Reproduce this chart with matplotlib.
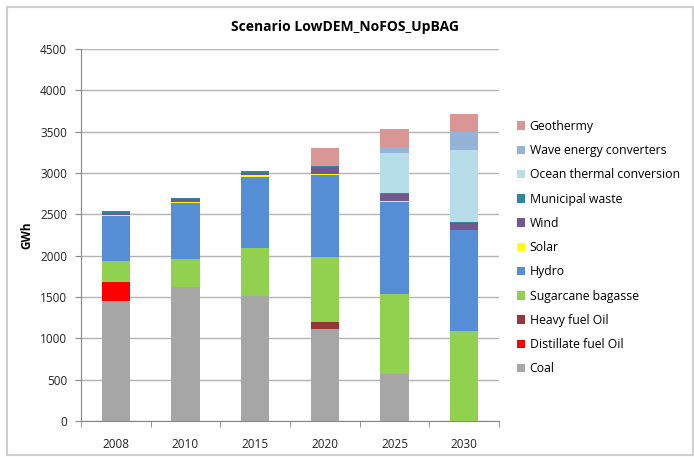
import matplotlib.pyplot as plt
import numpy as np

years = ["2008", "2010", "2015", "2020", "2025", "2030"]

coal = [1448, 1620, 1512, 1110, 563, 0]
distillate_oil = [229, 0, 0, 0, 0, 0]
heavy_oil = [0, 0, 0, 86, 0, 0]
bagasse = [263, 340, 575, 790, 978, 1086]
hydro = [544, 675, 868, 992, 1105, 1222]
solar = [12, 12, 26, 14, 16, 4]
wind = [24, 38, 18, 76, 80, 88]
municipal = [20, 10, 20, 20, 21, 13]
otec = [0, 0, 0, 0, 474, 860]
wave = [0, 0, 0, 5, 72, 217]
geothermy = [0, 0, 0, 215, 222, 226]

series = [
    ("Coal", coal, "#a6a6a6"),
    ("Distillate fuel Oil", distillate_oil, "#ff0000"),
    ("Heavy fuel Oil", heavy_oil, "#953735"),
    ("Sugarcane bagasse", bagasse, "#92d050"),
    ("Hydro", hydro, "#558ed5"),
    ("Solar", solar, "#ffff00"),
    ("Wind", wind, "#71588f"),
    ("Municipal waste", municipal, "#31859c"),
    ("Ocean thermal conversion", otec, "#b7dee8"),
    ("Wave energy converters", wave, "#95b3d7"),
    ("Geothermy", geothermy, "#d99694"),
]

plt.rcParams['font.family'] = ['Open Sans', 'DejaVu Sans']

fig = plt.figure(figsize=(6.94, 4.57), dpi=100)
# plot area in pixels: x 81..499, y 49..421
ax = fig.add_axes([81 / 694, 36 / 457, 418 / 694, 372 / 457])

x = np.arange(len(years))
bottom = np.zeros(len(years))
for name, vals, color in series:
    vals = np.array(vals, dtype=float)
    ax.bar(x, vals, 0.405, bottom=bottom, color=color, label=name, zorder=3)
    bottom += vals

ax.set_xlim(-0.5, len(years) - 0.5)
ax.set_ylim(0, 4500)
ax.set_yticks(np.arange(0, 4501, 500))
ax.set_xticks(x)
ax.set_xticklabels(years)
ax.set_xticks(np.arange(-0.5, len(years)), minor=True)
ax.tick_params(axis='x', which='major', length=0, pad=12, labelsize=8.5, labelcolor='#222222')
ax.tick_params(axis='x', which='minor', length=4, color='#868686')
ax.tick_params(axis='y', length=4, color='#868686', labelsize=8.5, pad=6, labelcolor='#222222')
ax.grid(axis='y', color='#b3b3b3', linewidth=1, zorder=0)

for side in ['top', 'right']:
    ax.spines[side].set_visible(False)
for side in ['left', 'bottom']:
    ax.spines[side].set_color('#868686')

ax.set_ylabel("GWh", fontsize=8.5, fontweight='bold', labelpad=5)
fig.text(0.497, 0.941, "Scenario LowDEM_NoFOS_UpBAG", ha='center', va='center',
         fontsize=10, fontweight='bold')

handles, labels = ax.get_legend_handles_labels()
ax.legend(handles[::-1], labels[::-1], loc='center left', bbox_to_anchor=(1.016, 0.466),
          frameon=False, fontsize=8.8, handlelength=0.7, handleheight=0.7,
          handletextpad=0.35, labelspacing=0.92)

# outer chart border
fig.patches.append(plt.Rectangle((7 / 694, 2 / 457), 686 / 694, 448 / 457, transform=fig.transFigure,
                                 fill=False, edgecolor='#d0d0d0', linewidth=1.5))

fig.savefig("out.png", dpi=100)
